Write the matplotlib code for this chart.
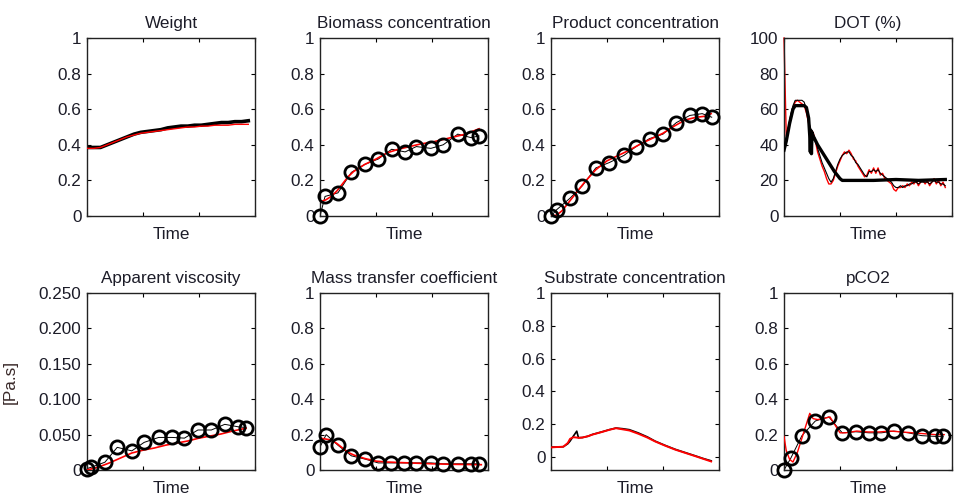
import numpy as np
import matplotlib
matplotlib.use("Agg")
import matplotlib.pyplot as plt

plt.rcParams['font.family'] = ['Liberation Sans', 'DejaVu Sans']

# ---------------- data ----------------
titles = ["Weight", "Biomass concentration", "Product concentration", "DOT (%)",
          "Apparent viscosity", "Mass transfer coefficient", "Substrate concentration", "pCO2"]

# Weight
t_w = [0, 6, 12, 18, 24, 30, 36, 42, 48, 54, 60, 66, 72, 78, 84, 90, 96, 102, 108, 114, 120, 126, 132, 138, 144]
w_meas = [0.385, 0.385, 0.385, 0.40, 0.415, 0.43, 0.445, 0.46, 0.47, 0.475, 0.48, 0.485, 0.495, 0.50,
          0.505, 0.505, 0.51, 0.51, 0.515, 0.52, 0.525, 0.525, 0.53, 0.53, 0.535]
w_model = [0.38, 0.38, 0.385, 0.40, 0.415, 0.43, 0.445, 0.455, 0.465, 0.47, 0.475, 0.48, 0.485, 0.49,
           0.495, 0.50, 0.50, 0.505, 0.505, 0.51, 0.51, 0.51, 0.515, 0.515, 0.515]

# Biomass
t_bio = [0, 4.5, 16, 28, 40, 52, 64, 76, 86, 99, 110, 123, 135, 142]
bio_off = [0.0, 0.11, 0.13, 0.245, 0.29, 0.32, 0.375, 0.36, 0.39, 0.38, 0.40, 0.46, 0.44, 0.45]
t_bio_m = [0, 5, 10, 15, 20, 25, 30, 40, 50, 60, 70, 80, 90, 100, 110, 120, 130, 142]
bio_model = [0.08, 0.09, 0.11, 0.14, 0.18, 0.22, 0.25, 0.29, 0.32, 0.355, 0.375, 0.39, 0.405, 0.415,
             0.43, 0.445, 0.46, 0.49]

# Product
t_prod = [0, 5, 17, 28, 40, 52, 65, 76, 88, 100, 112, 124, 135, 143.5]
prod_off = [0.0, 0.035, 0.10, 0.17, 0.27, 0.30, 0.34, 0.39, 0.435, 0.46, 0.525, 0.565, 0.575, 0.555]
t_prod_m = [0, 5, 10, 15, 20, 25, 30, 40, 50, 60, 70, 80, 90, 100, 110, 120, 130, 137, 143]
prod_model = [0.0, 0.005, 0.03, 0.07, 0.11, 0.15, 0.19, 0.26, 0.31, 0.34, 0.37, 0.405, 0.435, 0.465,
              0.505, 0.54, 0.555, 0.56, 0.575]

# DOT
t_dot = [0, 2, 4, 6, 8, 10, 12, 14, 16, 18, 20, 22, 24, 26, 28, 30, 32, 34, 36, 38, 40, 42, 44, 46, 48,
         50, 52, 54, 56, 58, 60, 62, 64, 66, 68, 70, 72, 74, 76, 78, 80, 82, 84, 86, 88, 90, 92, 94, 96,
         98, 100, 102, 104, 106, 108, 110, 112, 114, 116, 118, 120, 122, 124, 126, 128, 130, 132, 134,
         136, 138, 140, 142, 144]
dot_red = [100, 45, 50, 56, 61, 64, 65, 64, 63, 62, 58, 52, 48, 47, 42, 36, 32, 28, 25, 21, 18, 18, 20,
           24, 28, 31, 34, 36, 35, 37, 35, 32, 31, 28, 26, 24, 22, 23, 26, 24, 27, 24, 27, 23, 24, 21, 20,
           19, 18, 15, 14, 16, 16, 17, 16, 18, 17, 19, 18, 20, 17, 19, 20, 18, 20, 17, 19, 21, 18, 20, 17,
           19, 16]
dot_meas = [38, 44, 50, 57, 62, 65, 65, 65, 65, 64, 60, 53, 49, 46, 43, 38, 34, 30, 27, 24, 21, 19, 21,
            25, 29, 32, 34, 35, 36, 36, 34, 33, 30, 29, 27, 25, 23, 22, 25, 25, 26, 25, 26, 24, 23, 22, 21,
            20, 19, 17, 16, 16, 17, 16, 17, 17, 18, 18, 19, 19, 18, 19, 19, 19, 19, 18, 19, 20, 19, 19, 18,
            18, 17]
t_dot_sp = [0, 2, 5, 8, 10, 14, 18, 20, 22, 23, 23.5, 24, 24.5, 25, 26, 30, 35, 40, 45, 50, 52, 60, 80,
            100, 120, 144]
dot_sp = [37, 42, 52, 60, 62, 62, 62, 61, 55, 45, 36, 48, 35, 47, 45, 40, 35, 30, 25, 21, 20, 20, 20,
          20.5, 20, 20.5]

# Apparent viscosity
t_visc = [0, 4, 16, 27, 40, 51, 64, 76, 87, 99, 111, 123, 135, 142]
visc_off = [0.002, 0.004, 0.011, 0.032, 0.027, 0.039, 0.046, 0.046, 0.045, 0.0565, 0.0565, 0.0645, 0.061, 0.060]
t_visc_m = [0, 10, 20, 30, 40, 50, 60, 70, 80, 90, 100, 110, 120, 130, 142]
visc_model = [0.0, 0.004, 0.01, 0.017, 0.024, 0.028, 0.031, 0.035, 0.038, 0.041, 0.045, 0.048, 0.051,
              0.055, 0.059]
visc_ticks = [0, 0.05, 0.10, 0.15, 0.20, 0.25]
visc_ticklabels = ["0", "0.050", "0.100", "0.150", "0.200", "0.250"]

# Mass transfer coefficient
t_kla = [0, 5.5, 16, 28, 40, 52, 63, 75, 86, 99, 110, 123, 135, 142]
kla_off = [0.13, 0.20, 0.14, 0.08, 0.062, 0.04, 0.04, 0.04, 0.04, 0.04, 0.035, 0.035, 0.035, 0.035]
t_kla_m = [0, 5, 10, 15, 20, 25, 30, 40, 50, 60, 80, 100, 120, 144]
kla_model = [0.18, 0.175, 0.17, 0.15, 0.125, 0.10, 0.085, 0.065, 0.05, 0.045, 0.04, 0.035, 0.032, 0.03]

# Substrate
t_sub = [0, 5, 11, 15, 17, 20, 23, 24.5, 28, 33, 37, 45, 52, 58, 64, 70, 78, 86, 93, 102, 111, 120, 129, 136, 143]
sub_meas = [0.06, 0.06, 0.062, 0.08, 0.096, 0.127, 0.157, 0.117, 0.118, 0.126, 0.137, 0.152, 0.166, 0.176,
            0.172, 0.166, 0.146, 0.122, 0.096, 0.07, 0.046, 0.026, 0.006, -0.01, -0.024]
sub_model = [0.058, 0.06, 0.062, 0.085, 0.11, 0.12, 0.118, 0.116, 0.118, 0.126, 0.136, 0.151, 0.165,
             0.175, 0.168, 0.161, 0.141, 0.118, 0.094, 0.068, 0.044, 0.024, 0.004, -0.012, -0.028]

# pCO2
t_co2 = [0, 6, 16, 28, 40, 52, 64, 76, 87, 98, 111, 123, 135, 142]
co2_off = [0.0, 0.066, 0.194, 0.277, 0.30, 0.21, 0.216, 0.21, 0.21, 0.22, 0.21, 0.194, 0.19, 0.19]
t_co2_m = [0, 2, 5, 8, 12, 16, 20, 23, 26, 30, 35, 41, 46, 50, 55, 65, 75, 85, 95, 105, 115, 125, 135, 143]
co2_model = [0.19, 0.11, 0.06, 0.045, 0.10, 0.18, 0.26, 0.32, 0.29, 0.285, 0.29, 0.30, 0.25, 0.21, 0.21,
             0.22, 0.215, 0.215, 0.22, 0.215, 0.21, 0.205, 0.20, 0.20]

# ---------------- layout ----------------
W, H = 956, 501
fig = plt.figure(figsize=(W / 100, H / 100), dpi=100)
lefts = [87, 320, 551, 784]
aw = 168
rows = [(38, 216), (293, 470)]

TXT = '#1c1c28'
FS = 12.3

axes = []
for r, (top, bot) in enumerate(rows):
    for c, lx in enumerate(lefts):
        ax = fig.add_axes([lx / W, (H - bot) / H, aw / W, (bot - top) / H])
        axes.append(ax)

def style(ax, title, ylim, yticks, yticklabels=None):
    ax.set_xlim(0, 150)
    ax.set_xticks([0, 50, 100, 150])
    ax.set_xticklabels([])
    ax.set_ylim(*ylim)
    ax.set_yticks(yticks)
    if yticklabels is None:
        yticklabels = [f"{v:g}" for v in yticks]
    ax.set_yticklabels(yticklabels)
    ax.tick_params(direction='in', top=True, right=True, length=3, width=0.8,
                   labelsize=FS, labelcolor=TXT, pad=4)
    for s in ax.spines.values():
        s.set_linewidth(1.0)
        s.set_color('#222222')
    ax.set_title(title, fontsize=FS, color=TXT, pad=7)
    ax.set_xlabel("Time", fontsize=FS, color=TXT, labelpad=4)

unit = [0, 0.2, 0.4, 0.6, 0.8, 1]

def offline(ax, t, v):
    ax.plot(t, v, color='black', lw=0.7, zorder=2)
    ax.plot(t, v, 'o', ms=9.5, mfc='none', mec='black', mew=2.0, zorder=4, clip_on=False)

# Weight
ax = axes[0]
ax.plot(t_w, w_meas, color='black', lw=2.6, zorder=2)
ax.plot(t_w, w_model, color='red', lw=1.0, zorder=3)
style(ax, titles[0], (0, 1), unit)

# Biomass
ax = axes[1]
ax.plot(t_bio_m, bio_model, color='red', lw=1.2, zorder=3)
offline(ax, t_bio, bio_off)
style(ax, titles[1], (0, 1), unit)

# Product
ax = axes[2]
ax.plot(t_prod_m, prod_model, color='red', lw=1.2, zorder=3)
offline(ax, t_prod, prod_off)
style(ax, titles[2], (0, 1), unit)

# DOT
ax = axes[3]
ax.plot(t_dot, dot_red, color='red', lw=1.0, zorder=2, clip_on=False)
ax.plot(t_dot, dot_meas, color='black', lw=0.8, zorder=3)
ax.plot(t_dot_sp, dot_sp, color='black', lw=2.4, zorder=4)
style(ax, titles[3], (0, 100), [0, 20, 40, 60, 80, 100])

# Viscosity
ax = axes[4]
ax.plot(t_visc_m, visc_model, color='red', lw=1.2, zorder=3)
offline(ax, t_visc, visc_off)
style(ax, titles[4], (0, 0.25), visc_ticks, visc_ticklabels)
ax.set_ylabel("[Pa.s]", fontsize=FS, color='#3a2a2a')
ax.yaxis.set_label_coords(-0.41, 0.5)

# Mass transfer
ax = axes[5]
ax.plot(t_kla_m, kla_model, color='red', lw=1.2, zorder=3)
offline(ax, t_kla, kla_off)
style(ax, titles[5], (0, 1), unit)

# Substrate
ax = axes[6]
ax.plot(t_sub, sub_meas, color='black', lw=1.2, zorder=2)
ax.plot(t_sub, sub_model, color='red', lw=1.4, zorder=3)
style(ax, titles[6], (-0.08, 1), unit)

# pCO2
ax = axes[7]
ax.plot(t_co2_m, co2_model, color='red', lw=1.0, zorder=3)
offline(ax, t_co2, co2_off)
style(ax, titles[7], (0, 1), unit)

fig.savefig("out.png", dpi=100)
